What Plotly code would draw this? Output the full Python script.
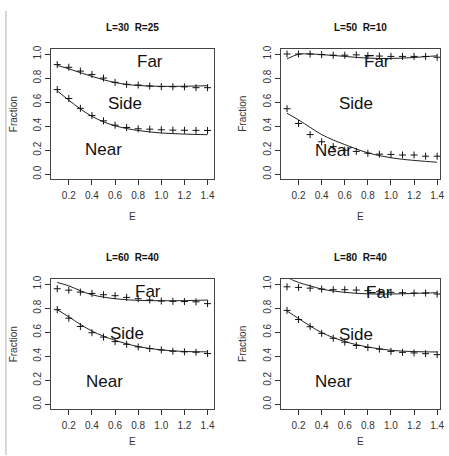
import plotly.graph_objects as go

E = [0.1, 0.2, 0.3, 0.4, 0.5, 0.6, 0.7, 0.8, 0.9, 1.0, 1.1, 1.2, 1.3, 1.4]

titles = ["L=30  R=25", "L=50  R=10", "L=60  R=40", "L=80  R=40"]

far_pts = [
    [0.912, 0.89, 0.858, 0.83, 0.80, 0.764, 0.748, 0.742, 0.734, 0.729, 0.728, 0.727, 0.72, 0.72],
    [1.0, 1.0, 1.0, 0.995, 0.99, 0.99, 0.993, 0.986, 0.983, 0.98, 0.98, 0.98, 0.98, 0.973],
    [0.962, 0.95, 0.934, 0.923, 0.912, 0.904, 0.89, 0.879, 0.868, 0.86, 0.857, 0.855, 0.853, 0.838],
    [0.978, 0.973, 0.967, 0.959, 0.954, 0.954, 0.951, 0.946, 0.937, 0.932, 0.929, 0.926, 0.926, 0.918],
]
far_fit = [
    [0.905, 0.877, 0.845, 0.814, 0.786, 0.763, 0.747, 0.738, 0.733, 0.731, 0.731, 0.732, 0.734, 0.736],
    [0.959, 0.998, 1.0, 0.995, 0.988, 0.98, 0.972, 0.966, 0.963, 0.963, 0.966, 0.971, 0.978, 0.985],
    [1.014, 0.986, 0.945, 0.912, 0.892, 0.879, 0.87, 0.865, 0.863, 0.862, 0.862, 0.863, 0.865, 0.868],
    [1.055, 1.014, 0.986, 0.959, 0.943, 0.932, 0.924, 0.919, 0.918, 0.918, 0.92, 0.923, 0.926, 0.929],
]
near_pts = [
    [0.704, 0.63, 0.548, 0.488, 0.444, 0.408, 0.389, 0.378, 0.375, 0.37, 0.367, 0.366, 0.365, 0.364],
    [0.545, 0.422, 0.33, 0.27, 0.23, 0.2, 0.19, 0.175, 0.167, 0.165, 0.16, 0.16, 0.15, 0.15],
    [0.788, 0.717, 0.648, 0.596, 0.56, 0.522, 0.5, 0.478, 0.464, 0.453, 0.442, 0.437, 0.434, 0.423],
    [0.782, 0.706, 0.646, 0.591, 0.55, 0.518, 0.49, 0.474, 0.46, 0.441, 0.433, 0.428, 0.422, 0.414],
]
near_fit = [
    [0.693, 0.616, 0.543, 0.482, 0.436, 0.403, 0.38, 0.364, 0.352, 0.343, 0.338, 0.334, 0.331, 0.329],
    [0.507, 0.452, 0.39, 0.33, 0.285, 0.247, 0.21, 0.178, 0.155, 0.137, 0.124, 0.115, 0.107, 0.1],
    [0.788, 0.728, 0.665, 0.61, 0.567, 0.533, 0.504, 0.481, 0.465, 0.453, 0.445, 0.44, 0.438, 0.437],
    [0.777, 0.714, 0.652, 0.597, 0.556, 0.523, 0.497, 0.477, 0.462, 0.45, 0.443, 0.439, 0.437, 0.436],
]
region_labels = ["Far", "Side", "Near"]
label_pos = [
    [(0.90, 0.94), (0.69, 0.59), (0.50, 0.205)],
    [(0.88, 0.94), (0.70, 0.59), (0.50, 0.20)],
    [(0.885, 0.94), (0.707, 0.588), (0.507, 0.19)],
    [(0.894, 0.93), (0.70, 0.583), (0.50, 0.188)],
]

W, H = 449, 456
FONT = "Liberation Sans, Arial, sans-serif"

# pixel boxes of plot regions: (left, right, top, bottom)
boxes = [
    (51.7, 215.5, 45.7, 177.0),
    (283.3, 444.0, 45.7, 177.0),
    (51.7, 215.5, 278.4, 409.7),
    (283.3, 444.0, 278.4, 409.7),
]
e_label_y = [215, 215, 442, 442]
xranges = [[0.048, 1.452], [0.046, 1.425], [0.048, 1.452], [0.046, 1.425]]
yrange = [-0.04, 1.04]

fig = go.Figure()
layout = dict(
    width=W, height=H,
    margin=dict(l=0, r=0, t=0, b=0),
    paper_bgcolor="white", plot_bgcolor="white",
    showlegend=False,
    font=dict(family=FONT, color="#222"),
    annotations=[], shapes=[],
)

for i in range(4):
    xa = "x" if i == 0 else f"x{i+1}"
    ya = "y" if i == 0 else f"y{i+1}"
    l, r, t, b = boxes[i]
    xd = [l / W, r / W]
    yd = [1 - b / H, 1 - t / H]
    axx = dict(domain=xd, range=xranges[i], anchor=ya, showgrid=False, zeroline=False,
               showline=True, mirror=True, linecolor="#444", linewidth=1,
               ticks="outside", ticklen=5, tickcolor="#333", tickwidth=1,
               tickvals=[0.2, 0.4, 0.6, 0.8, 1.0, 1.2, 1.4], tickformat=".1f",
               tickfont=dict(size=10, color="#333", family=FONT), ticklabelstandoff=2)
    axy = dict(domain=yd, range=yrange, anchor=xa, showgrid=False, zeroline=False,
               showline=True, mirror=True, linecolor="#444", linewidth=1,
               ticks="outside", ticklen=5, tickcolor="#333", tickwidth=1,
               tickvals=[0.0, 0.2, 0.4, 0.6, 0.8, 1.0], tickformat=".1f", tickangle=-90,
               tickfont=dict(size=10, color="#333", family=FONT))
    layout["xaxis" if i == 0 else f"xaxis{i+1}"] = axx
    layout["yaxis" if i == 0 else f"yaxis{i+1}"] = axy

    for pts, fit in ((far_pts[i], far_fit[i]), (near_pts[i], near_fit[i])):
        fig.add_trace(go.Scatter(x=E, y=fit, mode="lines", xaxis=xa, yaxis=ya,
                                 line=dict(color="#222", width=1, shape="spline", smoothing=1.0),
                                 hoverinfo="skip"))
        fig.add_trace(go.Scatter(x=E, y=pts, mode="markers", xaxis=xa, yaxis=ya,
                                 marker=dict(symbol="cross-thin", size=5,
                                             line=dict(color="#111", width=1)),
                                 cliponaxis=True))

    for txt, (px, py) in zip(region_labels, label_pos[i]):
        layout["annotations"].append(dict(x=px, y=py, xref=xa, yref=ya, text=txt,
                                          showarrow=False, xanchor="center", yanchor="middle",
                                          font=dict(size=17, color="#111", family=FONT)))
    cx = (l + r) / 2
    layout["annotations"].append(dict(x=cx / W, y=1 - (t - 21.7) / H, xref="paper", yref="paper",
                                      text=f"<b>{titles[i]}</b>", showarrow=False,
                                      xanchor="center", yanchor="middle",
                                      font=dict(size=10, color="#111", family=FONT)))
    layout["annotations"].append(dict(x=cx / W, y=1 - e_label_y[i] / H, xref="paper", yref="paper",
                                      text="E", showarrow=False, xanchor="center", yanchor="middle",
                                      font=dict(size=10, color="#333", family=FONT)))
    layout["annotations"].append(dict(x=(l - 38.5) / W, y=1 - ((t + b) / 2) / H,
                                      xref="paper", yref="paper", text="Fraction", textangle=-90,
                                      showarrow=False, xanchor="center", yanchor="middle",
                                      font=dict(size=10, color="#333", family=FONT)))

layout["shapes"].append(dict(type="line", xref="paper", yref="paper",
                             x0=6 / W, x1=6 / W, y0=0, y1=1 - 7 / H,
                             line=dict(color="#b0b0b0", width=1)))

fig.update_layout(**layout)
fig.write_html("out.html", config={"displayModeBar": False},
               post_script="document.body.style.margin='0';document.body.style.overflow='hidden';")
